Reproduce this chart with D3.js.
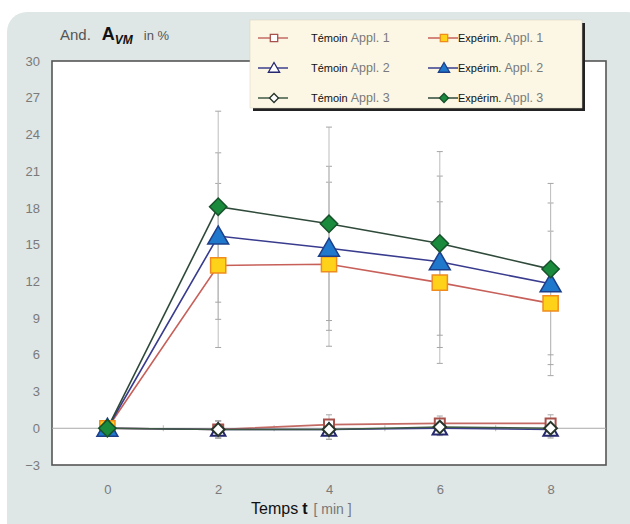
<!DOCTYPE html>
<html>
<head>
<meta charset="utf-8">
<title>And. AVM in %</title>
<script src="https://d3js.org/d3.v7.min.js"></script>
<style>
  body { margin: 0; background: #fff; }
  svg { display: block; font-family: "Liberation Sans", Arial, sans-serif; }
</style>
</head>
<body>
<div id="chart"></div>
<script>
  // values
  var times = [0, 2, 4, 6, 8];
  var yTicks = [-3, 0, 3, 6, 9, 12, 15, 18, 21, 24, 27, 30];

  var temoin1 = [0, -0.1, 0.3, 0.4, 0.4];
  var temoin2 = [0, -0.1, -0.1, 0.0, -0.1];
  var temoin3 = [0, -0.1, -0.1, 0.1, 0.0];
  var temoinSd = [0, 0.7, 0.8, 0.6, 0.7];

  var experim1 = [0, 13.3, 13.4, 11.9, 10.2];
  var experim2 = [0, 15.7, 14.7, 13.6, 11.8];
  var experim3 = [0, 18.1, 16.7, 15.1, 13.0];
  var experim1Sd = [0, 6.7, 6.7, 6.6, 5.9];
  var experim2Sd = [0, 6.8, 6.7, 7.0, 6.6];
  var experim3Sd = [0, 7.8, 7.9, 7.5, 7.0];

  // "diamond" = square turned by 45 degrees, like the original
  var series = [
    {group: "Témoin", appl: "Appl. 1", values: temoin1, sd: temoinSd, line: "#c46a64", shape: "square", fill: "#fff", stroke: "#a8504a", size: 100},
    {group: "Témoin", appl: "Appl. 2", values: temoin2, sd: temoinSd, line: "#3d3f8c", shape: "triangle", fill: "#fff", stroke: "#262870", size: 90},
    {group: "Témoin", appl: "Appl. 3", values: temoin3, sd: temoinSd, line: "#3f5a44", shape: "diamond", fill: "#fff", stroke: "#27352a", size: 80},
    {group: "Expérim.", appl: "Appl. 1", values: experim1, sd: experim1Sd, line: "#c8605a", shape: "square", fill: "#ffd21a", stroke: "#f08c1e", size: 230},
    {group: "Expérim.", appl: "Appl. 2", values: experim2, sd: experim2Sd, line: "#393c8e", shape: "triangle", fill: "#1f78cc", stroke: "#1d3f8a", size: 190},
    {group: "Expérim.", appl: "Appl. 3", values: experim3, sd: experim3Sd, line: "#2f4a3a", shape: "diamond", fill: "#1a8a3c", stroke: "#17522b", size: 150}
  ];

  function symbolType(s) {
    return s.shape === "triangle" ? d3.symbolTriangle : d3.symbolSquare;
  }
  function symbolTransform(s, px, py) {
    if (s.shape === "diamond") return "translate(" + px + "," + py + ") rotate(45)";
    if (s.shape === "triangle") return "translate(" + px + "," + (py + 2) + ")";
    return "translate(" + px + "," + py + ")";
  }

  var W = 630, H = 524;
  var svg = d3.select("#chart").append("svg").attr("width", W).attr("height", H);

  // rounded grey panel
  svg.append("rect")
    .attr("x", 7).attr("y", 12).attr("width", 640).attr("height", 540)
    .attr("rx", 20).attr("fill", "#dee6e6");

  var plot = {left: 52, right: 606, top: 61, bottom: 465};

  var x = d3.scaleLinear().domain([-1, 9]).range([plot.left, plot.right]);
  var y = d3.scaleLinear().domain([-3, 30]).range([plot.bottom, plot.top]);

  svg.append("rect")
    .attr("x", plot.left).attr("y", plot.top)
    .attr("width", plot.right - plot.left).attr("height", plot.bottom - plot.top)
    .attr("fill", "#fff").attr("stroke", "#555").attr("stroke-width", 1.6);

  // y tick labels
  var yAxis = svg.append("g")
    .attr("transform", "translate(" + plot.left + ",0)")
    .call(d3.axisLeft(y).tickValues(yTicks).tickSize(0).tickPadding(12));
  yAxis.select(".domain").remove();
  yAxis.selectAll("text").attr("fill", "#7a7a7a").style("font-size", "13px");

  // x tick labels
  var xAxis = svg.append("g")
    .attr("transform", "translate(0," + plot.bottom + ")")
    .call(d3.axisBottom(x).tickValues(times).tickSize(0).tickPadding(20));
  xAxis.select(".domain").remove();
  xAxis.selectAll("text").attr("fill", "#7a7a7a").style("font-size", "13px");

  // zero line with small ticks
  var zero = svg.append("g")
    .attr("transform", "translate(0," + y(0) + ")")
    .call(d3.axisBottom(x).tickValues(d3.range(0, 9)).tickSize(3).tickFormat(""));
  zero.select(".domain").attr("d", "M" + plot.left + ",0H" + plot.right).attr("stroke", "#aaa");
  zero.selectAll(".tick line").attr("stroke", "#bbb").attr("y1", -3);

  // error bars
  var errG = svg.append("g");
  series.forEach(function(s) {
    times.forEach(function(t, i) {
      if (!s.sd[i]) return;
      var lo = s.values[i] - s.sd[i], hi = s.values[i] + s.sd[i];
      errG.append("line")
        .attr("x1", x(t)).attr("x2", x(t)).attr("y1", y(lo)).attr("y2", y(hi))
        .attr("stroke", "#bdbdbd").attr("stroke-width", 1);
      [lo, hi].forEach(function(v) {
        errG.append("line")
          .attr("x1", x(t) - 3).attr("x2", x(t) + 3).attr("y1", y(v)).attr("y2", y(v))
          .attr("stroke", "#a5a5a5").attr("stroke-width", 1);
      });
    });
  });

  var line = d3.line()
    .x(function(d, i) { return x(times[i]); })
    .y(function(d) { return y(d); });

  series.forEach(function(s) {
    svg.append("path")
      .datum(s.values)
      .attr("d", line)
      .attr("fill", "none")
      .attr("stroke", s.line)
      .attr("stroke-width", 1.6);
  });

  series.forEach(function(s) {
    svg.append("g").selectAll("path")
      .data(s.values)
      .join("path")
      .attr("transform", function(d, i) { return symbolTransform(s, x(times[i]), y(d)); })
      .attr("d", d3.symbol().type(symbolType(s)).size(s.size))
      .attr("fill", s.fill)
      .attr("stroke", s.stroke)
      .attr("stroke-width", s.group === "Témoin" ? 2 : 1.5);
  });

  // legend
  var leg = svg.append("g").attr("transform", "translate(250,20)");
  leg.append("rect").attr("x", 3).attr("y", 3).attr("width", 332).attr("height", 88).attr("fill", "#222");
  leg.append("rect").attr("width", 332).attr("height", 88).attr("fill", "#fcf7e4").attr("stroke", "#d8d2bf").attr("stroke-width", 0.5);

  series.forEach(function(s, k) {
    var col = k < 3 ? 0 : 1, row = k % 3;
    var gx = col === 0 ? 8 : 178, gy = 18 + row * 30;
    var item = leg.append("g").attr("transform", "translate(" + gx + "," + gy + ")");
    item.append("line").attr("x1", 0).attr("x2", 30).attr("y1", 0).attr("y2", 0)
      .attr("stroke", s.line).attr("stroke-width", 1.5);
    item.append("path")
      .attr("transform", symbolTransform(s, 16, s.shape === "triangle" ? -1 : 0))
      .attr("d", d3.symbol().type(symbolType(s)).size(s.shape === "diamond" ? 40 : 55))
      .attr("fill", s.fill).attr("stroke", s.stroke).attr("stroke-width", 1.3);
    var tx = col === 0 ? 53 : 30;
    var txt = item.append("text").attr("x", tx).attr("y", 4).style("font-size", "11px");
    txt.append("tspan").attr("fill", "#111").text(s.group);
    txt.append("tspan").attr("fill", "#7a7a7a").attr("dx", 3).style("font-size", "12.5px").text(s.appl);
  });

  // y title
  var title = svg.append("text").attr("x", 60).attr("y", 40).attr("fill", "#555").style("font-size", "15px");
  title.append("tspan").text("And.");
  title.append("tspan").attr("dx", 11).attr("fill", "#111").style("font-weight", "bold").style("font-size", "18px").text("A");
  title.append("tspan").attr("dy", 4).attr("fill", "#111").style("font-weight", "bold").style("font-style", "italic").style("font-size", "12px").text("VM");
  title.append("tspan").attr("dy", -4).attr("dx", 11).style("font-size", "13px").text("in %");

  // x title
  var xt = svg.append("text").attr("x", 251).attr("y", 514).attr("fill", "#111").style("font-size", "16px");
  xt.append("tspan").text("Temps");
  xt.append("tspan").attr("dx", 4).style("font-weight", "bold").text("t");
  xt.append("tspan").attr("dx", 6).attr("fill", "#777").style("font-size", "14px").text("[ min ]");
</script>
</body>
</html>
